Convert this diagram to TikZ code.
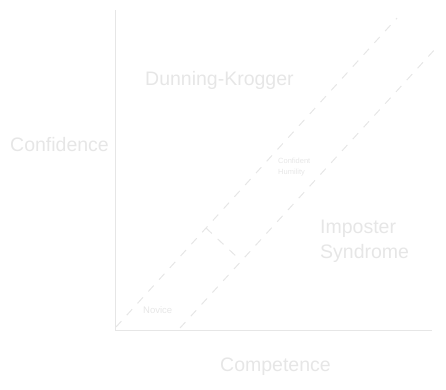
\documentclass[tikz,border=0pt]{standalone}
\usepackage{fontspec}
\setmainfont{Liberation Sans}
\usepackage{tikz}
\usetikzlibrary{positioning, calc}
\definecolor{faint}{RGB}{230,230,230}

\begin{document}
\begin{tikzpicture}[
    x=1pt, y=-1pt,
    axis/.style={draw=faint, line width=1pt},
    guide/.style={draw=faint, line width=1pt, dash pattern=on 8pt off 8pt},
    big/.style={text=faint, font=\fontsize{19.5}{25}\selectfont, align=left, inner sep=0pt},
    small/.style={text=faint, font=\fontsize{7.5}{11}\selectfont, align=left, inner sep=0pt}
]
    \useasboundingbox (0,0) rectangle (446,389);

    % Axis ends
    \coordinate (top) at (115,10);
    \coordinate (origin) at (115,330);
    \coordinate (right) at (432,330);

    % Guide line ends
    \coordinate (lowA) at (116,327);
    \coordinate (highA) at (397,18);
    \coordinate (lowB) at (180,328);
    \coordinate (highB) at (437,47);
    \coordinate (gapA) at (206,228);
    \coordinate (gapB) at (238,258);

    % Axes
    \draw[axis] (top) -- (origin) -- (right);

    % Guides
    \draw[guide] (lowA) -- (highA);
    \draw[guide] (lowB) -- (highB);
    \draw[guide] (gapA) -- (gapB);

    % Labels
    \node[big, anchor=west] (dk) at (145,80) {Dunning-Krogger};
    \node[big, anchor=west] (conf) at (10,145) {Confidence};
    \node[big, anchor=west] (comp) at (220,367) {Competence};
    \node[big, anchor=north west] (imp) at (320,220) {Imposter\\Syndrome};
    \node[small, anchor=west] (humble) at (278,167) {Confident\\Humility};
    \node[small, anchor=west, font=\fontsize{9.5}{11}\selectfont] (novice) at (143,310) {Novice};
\end{tikzpicture}
\end{document}
